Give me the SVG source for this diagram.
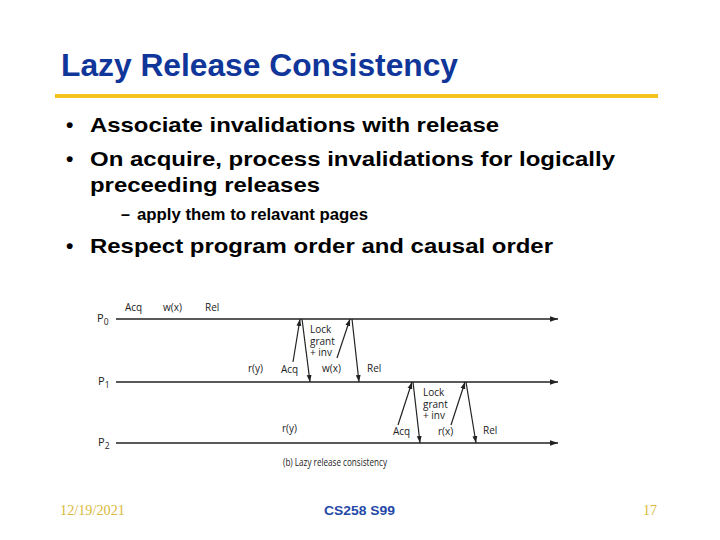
<svg xmlns="http://www.w3.org/2000/svg" width="720" height="540" viewBox="0 0 720 540">
<defs>
<style>
.title{font-family:"Liberation Sans",Arial,sans-serif;font-weight:bold;font-size:31px;fill:#10369a}
.b{font-family:"Liberation Sans",Arial,sans-serif;font-weight:bold;font-size:21px;fill:#000}
.sb{font-family:"Liberation Sans",Arial,sans-serif;font-weight:bold;font-size:16px;fill:#000}
.d{font-family:"Open Sans","DejaVu Sans",sans-serif;font-size:10px;fill:#222}
.p{font-family:"Open Sans","DejaVu Sans",sans-serif;font-size:11px;fill:#222}
.ps{font-size:8.5px}
.tl{stroke:#222;stroke-width:1.6;fill:none}
.ar{stroke:#222;stroke-width:1.2;fill:none}
.fd{font-family:"Liberation Serif","Times New Roman",serif;font-size:14px;fill:#d9b83a}
.fc{font-family:"Liberation Sans",Arial,sans-serif;font-weight:bold;font-size:13px;fill:#2448a8}
</style>
<marker id="ah" viewBox="0 0 10 10" refX="10" refY="5" markerWidth="7" markerHeight="7" orient="auto-start-reverse" markerUnits="userSpaceOnUse">
<path d="M0,1.5 L10,5 L0,8.5 z" fill="#222"/>
</marker>
<marker id="ahl" viewBox="0 0 10 10" refX="10" refY="5" markerWidth="12" markerHeight="8" orient="auto" markerUnits="userSpaceOnUse">
<path d="M0,1.5 L10,5 L0,8.5 z" fill="#222"/>
</marker>
</defs>
<rect width="720" height="540" fill="#fff"/>
<g id="title">
<text class="title" x="61" y="76" textLength="397" lengthAdjust="spacingAndGlyphs">Lazy Release Consistency</text>
<rect x="55" y="94" width="603" height="4" fill="#f2c21e"/>
</g>
<g id="bullets">
<text class="b" x="66" y="132">•</text>
<text class="b" x="90" y="132" textLength="409" lengthAdjust="spacingAndGlyphs">Associate invalidations with release</text>
<text class="b" x="66" y="166">•</text>
<text class="b" x="90" y="166" textLength="525" lengthAdjust="spacingAndGlyphs">On acquire, process invalidations for logically</text>
<text class="b" x="90" y="192" textLength="230" lengthAdjust="spacingAndGlyphs">preceeding releases</text>
<text class="sb" x="121" y="220">–</text>
<text class="sb" x="137" y="220" textLength="231" lengthAdjust="spacingAndGlyphs">apply them to relavant pages</text>
<text class="b" x="66" y="253">•</text>
<text class="b" x="90" y="253" textLength="463" lengthAdjust="spacingAndGlyphs">Respect program order and causal order</text>
</g>
<g id="P0">
<text class="p" x="97" y="322">P<tspan class="ps" dy="3">0</tspan></text>
<text class="d" x="125" y="311">Acq</text>
<text class="d" x="163" y="311">w(x)</text>
<text class="d" x="205" y="311">Rel</text>
</g>
<g id="P1">
<text class="p" x="98" y="385">P<tspan class="ps" dy="3">1</tspan></text>
<text class="d" x="248" y="372">r(y)</text>
<text class="d" x="281" y="373">Acq</text>
<text class="d" x="322" y="372">w(x)</text>
<text class="d" x="367" y="372">Rel</text>
<text class="d" x="310" y="333">Lock</text>
<text class="d" x="310" y="344.5">grant</text>
<text class="d" x="310" y="356">+ inv</text>
</g>
<g id="P2">
<text class="p" x="98" y="446">P<tspan class="ps" dy="3">2</tspan></text>
<text class="d" x="282" y="432">r(y)</text>
<text class="d" x="393" y="435">Acq</text>
<text class="d" x="438" y="435">r(x)</text>
<text class="d" x="483" y="434">Rel</text>
<text class="d" x="423" y="396">Lock</text>
<text class="d" x="423" y="407.5">grant</text>
<text class="d" x="423" y="419">+ inv</text>
</g>
<g id="caption">
<text class="d" x="283" y="466" textLength="104" lengthAdjust="spacingAndGlyphs">(b) Lazy release consistency</text>
</g>
<g id="connectors">
<line class="tl" x1="116" y1="319" x2="558" y2="319" marker-end="url(#ahl)"/>
<line class="tl" x1="116" y1="382" x2="558" y2="382" marker-end="url(#ahl)"/>
<line class="tl" x1="116" y1="443" x2="558" y2="443" marker-end="url(#ahl)"/>
<line class="ar" x1="293" y1="362" x2="300" y2="319" marker-end="url(#ah)"/>
<line class="ar" x1="302" y1="319" x2="310" y2="382" marker-end="url(#ah)"/>
<line class="ar" x1="337" y1="358" x2="350" y2="319" marker-end="url(#ah)"/>
<line class="ar" x1="352" y1="319" x2="359" y2="382" marker-end="url(#ah)"/>
<line class="ar" x1="398" y1="425" x2="412" y2="382" marker-end="url(#ah)"/>
<line class="ar" x1="413" y1="382" x2="420" y2="443" marker-end="url(#ah)"/>
<line class="ar" x1="451" y1="425" x2="465" y2="382" marker-end="url(#ah)"/>
<line class="ar" x1="466" y1="382" x2="476" y2="443" marker-end="url(#ah)"/>
</g>
<g id="footer">
<text class="fd" x="60" y="515" textLength="65" lengthAdjust="spacingAndGlyphs">12/19/2021</text>
<text class="fc" x="324" y="515" textLength="71" lengthAdjust="spacingAndGlyphs">CS258 S99</text>
<text class="fd" x="643" y="515">17</text>
</g>
</svg>
